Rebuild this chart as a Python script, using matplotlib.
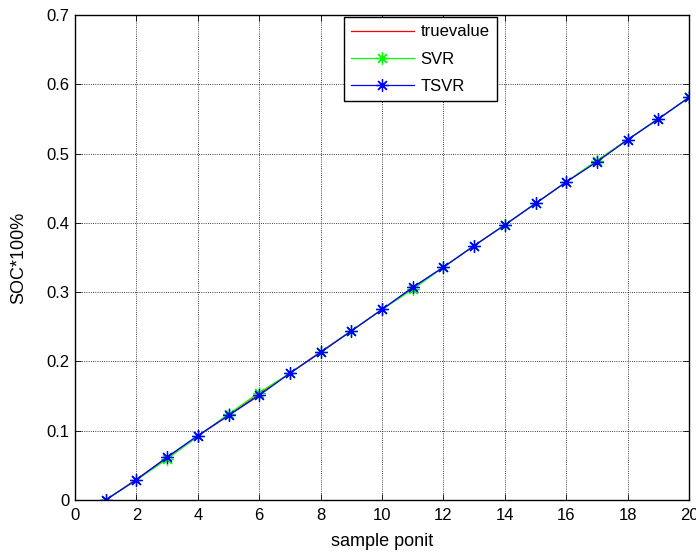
import numpy as np
import matplotlib
matplotlib.use("Agg")
from matplotlib import pyplot as plt

# サンプル点
sample = [1, 2, 3, 4, 5, 6, 7, 8, 9, 10, 11, 12, 13, 14, 15, 16, 17, 18, 19, 20]
# 真値
truevalue = [0.000, 0.030, 0.061, 0.092, 0.122, 0.153, 0.183, 0.214, 0.244, 0.275,
             0.306, 0.336, 0.367, 0.397, 0.428, 0.459, 0.489, 0.520, 0.550, 0.581]
# SVR予測
svr = [0.000, 0.029, 0.059, 0.092, 0.124, 0.155, 0.183, 0.213, 0.244, 0.275,
       0.304, 0.336, 0.367, 0.397, 0.428, 0.459, 0.490, 0.520, 0.550, 0.581]
# TSVR予測
tsvr = [0.000, 0.029, 0.062, 0.093, 0.122, 0.151, 0.183, 0.213, 0.244, 0.275,
        0.307, 0.336, 0.367, 0.397, 0.428, 0.459, 0.488, 0.520, 0.550, 0.581]

plt.rcParams['font.family'] = ['Liberation Sans', 'DejaVu Sans']

fig = plt.figure(figsize=(6.96, 5.54), dpi=100)
ax = fig.add_axes([75 / 696, 54 / 554, 614 / 696, 485 / 554])

star = (8, 2, 0)  # MATLABの'*'風マーカー
ax.plot(sample, truevalue, color='red', lw=0.9, label='truevalue')
ax.plot(sample, svr, color='#00ff00', lw=0.9, marker=star, ms=9, mew=0.9,
        label='SVR')
ax.plot(sample, tsvr, color='blue', lw=0.9, marker=star, ms=9, mew=0.9,
        label='TSVR')

ax.set_xlim(0, 20)
ax.set_ylim(0, 0.7)
ax.set_xticks(np.arange(0, 21, 2))
ax.set_yticks(np.arange(0, 0.71, 0.1))
ax.set_yticklabels(['0', '0.1', '0.2', '0.3', '0.4', '0.5', '0.6', '0.7'])
ax.tick_params(direction='in', top=True, right=True, length=4, width=0.6,
               labelsize=12)
ax.tick_params(axis='x', pad=6)
ax.tick_params(axis='y', pad=4)
ax.grid(True, color='black', linestyle=':', linewidth=0.6)
for s in ax.spines.values():
    s.set_linewidth(1.0)

ax.set_xlabel('sample ponit', fontsize=13, va='center')
ax.xaxis.set_label_coords(0.5, -0.085)
ax.set_ylabel('SOC*100%', fontsize=13, va='center')
ax.yaxis.set_label_coords(-0.091, 0.5)

leg = ax.legend(loc='upper right', bbox_to_anchor=(0.687, 0.996),
                borderaxespad=0, fancybox=False, framealpha=1,
                edgecolor='black', fontsize=12, handlelength=3.75,
                handletextpad=0.4, labelspacing=0.73, borderpad=0.45)
leg.get_frame().set_linewidth(1.0)

fig.savefig('out.png', dpi=100)
